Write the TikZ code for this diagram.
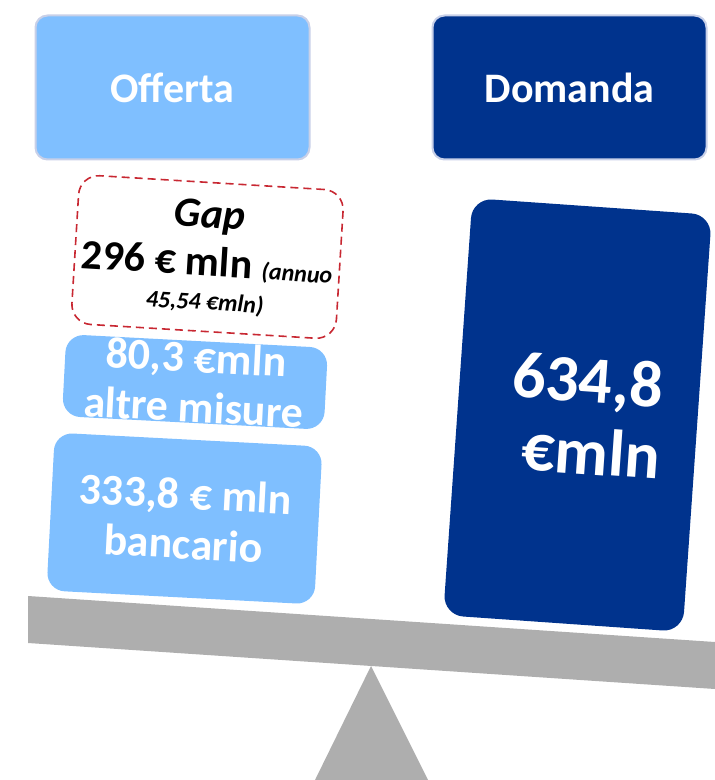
\documentclass[tikz,border=0pt]{standalone}
\usepackage{fontspec}
\setmainfont{Carlito}

\definecolor{lightblue}{RGB}{127,191,255}
\definecolor{darkblue}{RGB}{0,51,141}
\definecolor{beamgray}{RGB}{174,174,174}
\definecolor{gapred}{RGB}{200,40,50}
\definecolor{edgeblue}{RGB}{200,208,232}

\newcommand{\gapsmall}{\bfseries\itshape\fontsize{12}{14}\selectfont}

\tikzset{
	headbox/.style={rounded corners=6pt, draw=edgeblue, line width=1pt, minimum width=137pt, minimum height=72pt, text=white, font=\bfseries\fontsize{21}{25}\selectfont},
	valbox/.style={rounded corners=9pt, fill=lightblue, text=white, align=center, inner sep=0pt, font=\bfseries\fontsize{22}{25}\selectfont},
	gapbox/.style={rounded corners=10pt, draw=gapred, line width=0.8pt, dash pattern=on 4pt off 2.5pt, align=center, inner sep=0pt, font=\bfseries\fontsize{21}{24}\selectfont}
}

\begin{document}
\begin{tikzpicture}[x=0.5pt,y=-0.5pt]
	\useasboundingbox (0,0) rectangle (715,780);
	% scale
	\fill[beamgray] (28,596) -- (715,642) -- (715,689) -- (28,643) -- cycle;
	\fill[beamgray] (371,666) -- (428,780) -- (315,780) -- cycle;
	% headers
	\node[headbox, fill=lightblue] (offerta) at (172.5,87.5) {Offerta};
	\node[headbox, fill=darkblue] (domanda) at (569.5,87.5) {Domanda};
	% offer side
	\node[gapbox, rotate=-3.5, minimum width=132.5pt, minimum height=74.5pt] (gap) at (207.5,257)
		{\textit{Gap}\\ 296 € mln {\gapsmall (annuo}\\[-7pt] {\gapsmall 45,54 €mln)}};
	\node[valbox, rotate=-3, minimum width=131pt, minimum height=41pt] (altre) at (195,382)
		{80,3 €mln\\ altre misure};
	\node[valbox, rotate=-3, minimum width=134pt, minimum height=79pt] (bancario) at (184.5,518.5)
		{333,8 € mln\\ bancario};
	% demand side
	\node[valbox, fill=darkblue, rounded corners=10pt, rotate=-4, minimum width=120pt, minimum height=209pt, font=\bfseries\fontsize{33}{36}\selectfont] (totale) at (577.5,415)
		{\hspace*{8pt}634,8\\ \hspace*{16pt}€mln};
\end{tikzpicture}
\end{document}
